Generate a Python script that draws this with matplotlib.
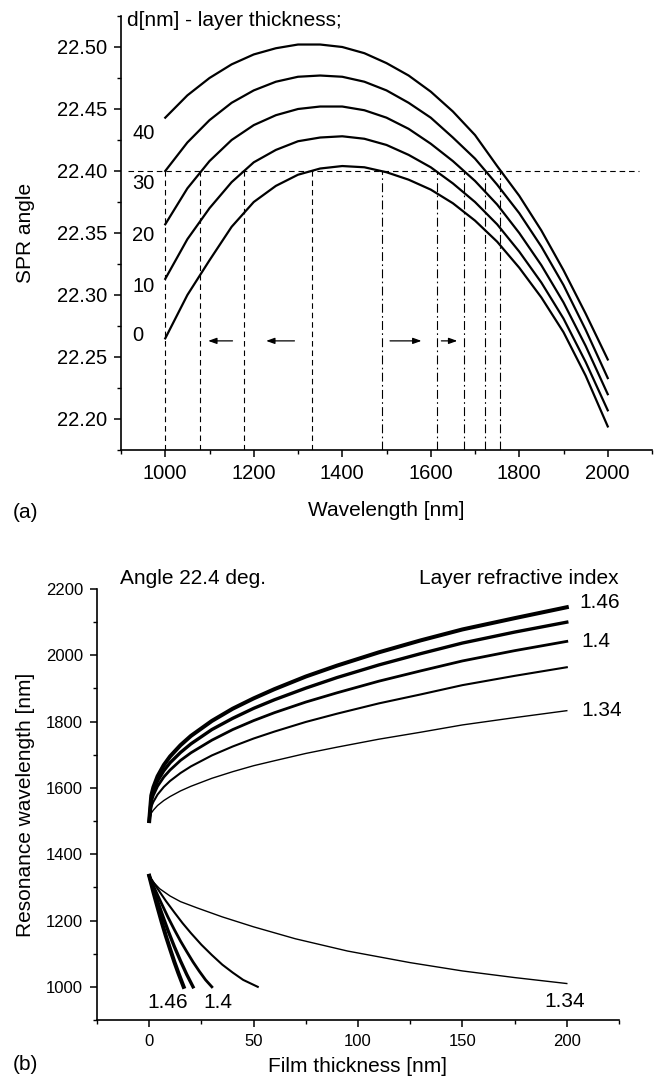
import numpy as np
import matplotlib
matplotlib.use('Agg')
import matplotlib.pyplot as plt
from matplotlib.ticker import MultipleLocator, FormatStrFormatter

plt.rcParams['font.family'] = ['Liberation Sans', 'DejaVu Sans']

# ---- panel (a): SPR angle vs wavelength for several layer thicknesses ----
wl = [1000, 1050, 1100, 1150, 1200, 1250, 1300, 1350, 1400, 1450, 1500,
      1550, 1600, 1650, 1700, 1750, 1800, 1850, 1900, 1950, 2000]
spr_d0 = [22.265, 22.300, 22.328, 22.355, 22.375, 22.388, 22.397, 22.402, 22.404, 22.403, 22.399,
          22.393, 22.385, 22.374, 22.360, 22.343, 22.322, 22.298, 22.270, 22.235, 22.194]
spr_d10 = [22.313, 22.345, 22.370, 22.391, 22.407, 22.417, 22.424, 22.427, 22.428, 22.426, 22.421,
           22.413, 22.403, 22.390, 22.375, 22.357, 22.335, 22.310, 22.281, 22.246, 22.207]
spr_d20 = [22.357, 22.386, 22.408, 22.425, 22.437, 22.445, 22.450, 22.452, 22.452, 22.449, 22.443,
           22.434, 22.422, 22.408, 22.392, 22.373, 22.350, 22.324, 22.294, 22.259, 22.220]
spr_d30 = [22.400, 22.423, 22.441, 22.455, 22.465, 22.472, 22.476, 22.477, 22.476, 22.472, 22.465,
           22.455, 22.443, 22.427, 22.410, 22.389, 22.366, 22.339, 22.308, 22.272, 22.233]
spr_d40 = [22.443, 22.461, 22.475, 22.486, 22.494, 22.499, 22.502, 22.502, 22.500, 22.495, 22.487,
           22.477, 22.464, 22.448, 22.429, 22.404, 22.380, 22.352, 22.320, 22.285, 22.248]
thickness_labels = ['0', '10', '20', '30', '40']
label_y = [22.267, 22.307, 22.348, 22.390, 22.430]

angle_level = 22.40
cross_left = [1000, 1079, 1177, 1331]
cross_right = [1490, 1614, 1676, 1723, 1757]
arrows = [(1152, 1097), (1292, 1228), (1508, 1579), (1624, 1660)]
arrow_y = 22.263

# ---- panel (b): resonance wavelength vs film thickness ----
t_up = [0, 1, 2, 4, 7, 10, 15, 20, 30, 40, 50, 60, 75, 90, 110, 130, 150, 175, 200]
up_134 = [1500, 1524, 1533, 1547, 1562, 1574, 1591, 1605, 1629, 1649, 1667, 1682, 1704,
          1723, 1747, 1768, 1790, 1812, 1833]
up_137 = [1500, 1543, 1558, 1580, 1603, 1621, 1645, 1665, 1698, 1725, 1749, 1770, 1799,
          1824, 1855, 1882, 1910, 1938, 1964]
up_140 = [1500, 1559, 1578, 1605, 1633, 1654, 1683, 1706, 1744, 1776, 1803, 1827, 1859,
          1887, 1922, 1953, 1983, 2014, 2042]
up_143 = [1500, 1568, 1591, 1621, 1652, 1676, 1707, 1733, 1776, 1810, 1840, 1866, 1901,
          1933, 1971, 2005, 2037, 2070, 2100]
up_146 = [1500, 1577, 1602, 1635, 1669, 1695, 1729, 1757, 1802, 1839, 1870, 1898, 1936,
          1969, 2009, 2045, 2078, 2112, 2145]

t_lo_134 = [0, 2, 5, 10, 15, 23, 35, 50, 70, 95, 125, 150, 175, 200]
lo_134 = [1335, 1316, 1296, 1274, 1257, 1238, 1211, 1181, 1145, 1108, 1073, 1048, 1028, 1010]
t_lo_137 = [0, 4, 8, 12, 16, 20, 25, 30, 35, 40, 45, 52]
lo_137 = [1335, 1296, 1259, 1225, 1192, 1162, 1127, 1096, 1067, 1043, 1021, 1000]
t_lo_140 = [0, 3, 6, 9, 12, 15, 18, 21, 24, 27, 30]
lo_140 = [1335, 1291, 1250, 1210, 1173, 1138, 1106, 1075, 1047, 1021, 1000]
t_lo_143 = [0, 3, 6, 9, 12, 15, 18, 21]
lo_143 = [1335, 1277, 1222, 1170, 1122, 1078, 1037, 1000]
t_lo_146 = [0, 2, 4, 6, 8, 10, 12, 14, 16.5]
lo_146 = [1335, 1286, 1240, 1195, 1153, 1114, 1076, 1041, 1000]

lws = [1.0, 1.5, 2.0, 2.4, 2.9]

fig = plt.figure(figsize=(6.58, 10.79), dpi=100)

# ---------------- (a) ----------------
ax = fig.add_axes([121/658, 1-450/1079, 531/658, 434/1079])
for y in [spr_d0, spr_d10, spr_d20, spr_d30, spr_d40]:
    ax.plot(wl, y, color='black', lw=1.6)
for lab, ly in zip(thickness_labels, label_y):
    ax.text(925, ly, lab, fontsize=14.5, va='center', ha='left')

ax.plot([915, 2070], [angle_level, angle_level], color='black', lw=0.8, ls=(0, (5, 3.5)))
for x in cross_left:
    ax.plot([x, x], [22.175, angle_level], color='black', lw=0.8, ls=(0, (5, 3.5)))
for x in cross_right:
    ax.plot([x, x], [22.175, angle_level], color='black', lw=0.8, ls=(0, (8, 3, 1.5, 3)))
for x0, x1 in arrows:
    ax.annotate('', xy=(x1, arrow_y), xytext=(x0, arrow_y),
                arrowprops=dict(arrowstyle='-|>,head_length=0.5,head_width=0.18',
                                color='black', lw=0.9, shrinkA=0, shrinkB=0))

ax.text(914, 22.521, 'd[nm] - layer thickness;', fontsize=15, va='center', ha='left')

ax.set_xlim(900, 2100)
ax.set_ylim(22.175, 22.525)
ax.xaxis.set_major_locator(MultipleLocator(200))
ax.xaxis.set_minor_locator(MultipleLocator(100))
ax.yaxis.set_major_locator(MultipleLocator(0.05))
ax.yaxis.set_minor_locator(MultipleLocator(0.025))
ax.yaxis.set_major_formatter(FormatStrFormatter('%.2f'))
ax.set_xlabel('Wavelength [nm]', fontsize=15, labelpad=13)
ax.set_ylabel('SPR angle', fontsize=15, labelpad=16)

# ---------------- (b) ----------------
bx = fig.add_axes([97/658, 1-1020/1079, 522/658, 431/1079])
for y, w in zip([up_134, up_137, up_140, up_143, up_146], lws):
    bx.plot(t_up, y, color='black', lw=w)
for t, y, w in zip([t_lo_134, t_lo_137, t_lo_140, t_lo_143, t_lo_146],
                   [lo_134, lo_137, lo_140, lo_143, lo_146], lws):
    bx.plot(t, y, color='black', lw=w)

bx.text(206, 2158, '1.46', fontsize=15, va='center', ha='left')
bx.text(207, 2042, '1.4', fontsize=15, va='center', ha='left')
bx.text(207, 1833, '1.34', fontsize=15, va='center', ha='left')
bx.text(9, 952, '1.46', fontsize=15, va='center', ha='center')
bx.text(33, 952, '1.4', fontsize=15, va='center', ha='center')
bx.text(199, 955, '1.34', fontsize=15, va='center', ha='center')
bx.text(-14, 2233, 'Angle 22.4 deg.', fontsize=15, va='center', ha='left', clip_on=False)
bx.text(225, 2233, 'Layer refractive index', fontsize=15, va='center', ha='right', clip_on=False)

bx.set_xlim(-25, 225)
bx.set_ylim(900, 2200)
bx.xaxis.set_major_locator(MultipleLocator(50))
bx.xaxis.set_minor_locator(MultipleLocator(25))
bx.yaxis.set_major_locator(MultipleLocator(200))
bx.yaxis.set_minor_locator(MultipleLocator(100))
bx.set_xlabel('Film thickness [nm]', fontsize=15, labelpad=6)
bx.set_ylabel('Resonance wavelength [nm]', fontsize=15, labelpad=8)

for a, fs in [(ax, 14.5), (bx, 12)]:
    a.spines['top'].set_visible(False)
    a.spines['right'].set_visible(False)
    a.spines['left'].set_linewidth(1.2)
    a.spines['bottom'].set_linewidth(1.2)
    a.tick_params(which='major', direction='out', length=5, width=1.1, labelsize=fs, pad=5)
    a.tick_params(which='minor', direction='out', length=3, width=1.0)

fig.text(13/658, 1-513/1079, '(a)', fontsize=15, va='center', ha='left')
fig.text(13/658, 1-1065/1079, '(b)', fontsize=15, va='center', ha='left')

fig.savefig('out.png', dpi=100)
